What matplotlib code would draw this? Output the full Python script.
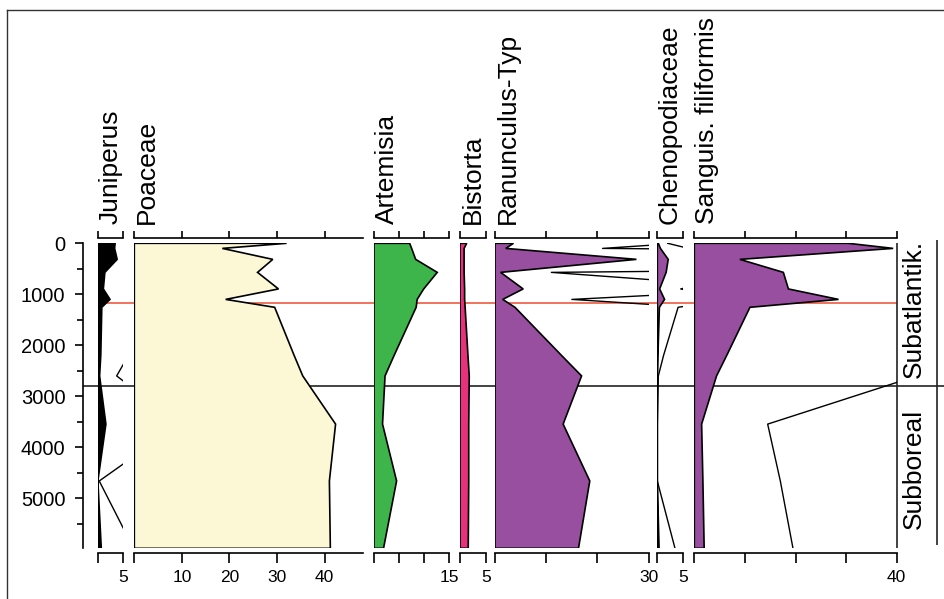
import numpy as np
import matplotlib
matplotlib.use("Agg")
import matplotlib.pyplot as plt
from matplotlib.lines import Line2D

plt.rcParams['font.family'] = ['Liberation Sans', 'DejaVu Sans']

#%% data (depth / age of the samples and percentages per taxon)
depth = [0, 100, 315, 570, 895, 1100, 1255, 2200, 2600, 3545, 4660, 5980]

juniperus = [3.4, 3.3, 3.8, 1.4, 1.1, 2.4, 0.8, 0.6, 0.37, 1.6, 0.03, 0.7]
poaceae = [32.0, 18.5, 29.1, 25.9, 30.3, 19.2, 29.5, 33.6, 35.4, 42.3, 41.0, 41.2]
artemisia = [7.1, 7.5, 8.3, 12.6, 9.9, 8.6, 8.4, 4.0, 2.2, 1.7, 4.5, 1.9]
bistorta = [1.3, 0.8, 0.8, 0.8, 0.9, 0.9, 1.0, 1.55, 1.8, 1.7, 1.7, 1.6]
ranunculus = [3.6, 2.1, 27.6, 1.1, 5.5, 1.5, 3.9, 13.0, 16.9, 13.3, 18.5, 16.3]
chenopodiaceae = [0.2, 0.6, 2.1, 1.7, 0.45, 1.4, 0.4, 0.12, 0.02, 0.0, 0.0, 0.34]
sanguisorba = [30.4, 39.3, 9.0, 17.6, 18.6, 28.5, 11.0, 6.4, 4.4, 1.45, 1.7, 1.95]

taxa = ['Juniperus', 'Poaceae', 'Artemisia', 'Bistorta', 'Ranunculus-Typ',
        'Chenopodiaceae', 'Sanguis. filiformis']
series = [juniperus, poaceae, artemisia, bistorta, ranunculus, chenopodiaceae, sanguisorba]
xmax = [5, 48, 15, 5, 30, 5, 40]
tick_step = [5, 10, 5, 5, 10, 5, 10]
tick_text = [['', '5'], ['', '10', '20', '30', '40'], ['', '', '', '15'], ['', '5'],
             ['', '', '', '30'], ['', '5'], ['', '', '', '', '40']]
colors = ['black', '#fcf8d5', '#3db54a', '#e5327a', '#984f9f', '#984f9f', '#984f9f']
exag = [True, False, False, False, True, True, True]  # x10 curves

zones = ['Subatlantik.', 'Subboreal']
zone_mid = [1290, 4430]
red_line = 1180
zone_line = 2790
depth_max = 5980

#%% layout in pixels
W, H = 944, 599
fnt = 19
lw = 1.2

def fx(p):
    return p / W

def fy(p):
    return 1 - p / H

y_top, y_bot = 243.3, 548.3
left_px = [97.7, 134.3, 374, 460, 495, 657.3, 694.3]
right_px = [123.3, 362.7, 449.3, 485.7, 648.7, 683.3, 896.7]

fig = plt.figure(figsize=(W / 100, H / 100), dpi=100)

# frame
fig.add_artist(Line2D([fx(6.5), fx(6.5)], [0, fy(10)], color='#333333', lw=1))
fig.add_artist(Line2D([fx(6.5), 1], [fy(10), fy(10)], color='#333333', lw=1))

# depth axis + zone lines (behind the curves)
ax0 = fig.add_axes([fx(82.7), fy(y_bot), fx(W - 82.7), (y_bot - y_top) / H], zorder=-1)
ax0.patch.set_facecolor('none')
ax0.set_xlim(82.7, W)
ax0.set_ylim(depth_max, 0)
for s in ['top', 'right', 'bottom']:
    ax0.spines[s].set_visible(False)
ax0.spines['left'].set_linewidth(lw)
ax0.set_xticks([])
ax0.set_yticks(np.arange(0, 5001, 1000))
ax0.set_yticks(np.arange(500, 5600, 1000), minor=True)
ax0.tick_params(axis='y', which='major', length=6, width=lw, pad=6.5, labelsize=14.5)
ax0.tick_params(axis='y', which='minor', length=4, width=lw)
ax0.hlines(red_line, 97.7, 896.7, color='#ef5b3f', lw=1.2)
ax0.hlines(zone_line, 82.7, W, color='#222222', lw=1.2)
ax0.vlines(896.7, 0, depth_max, color='#222222', lw=1.2)
ax0.vlines(937.3, -60, 5920, color='#222222', lw=1.2, clip_on=False)
for z, zm in zip(zones, zone_mid):
    ax0.text(914, zm, z, rotation=90, ha='center', va='center', fontsize=fnt)

# pollen curves
for i in range(len(taxa)):
    ax = fig.add_axes([fx(left_px[i]), fy(y_bot), fx(right_px[i] - left_px[i]),
                       (y_bot - y_top) / H])
    ax.patch.set_facecolor('none')
    v = np.array(series[i])
    d = np.array(depth)
    ax.fill(np.r_[0, v, 0], np.r_[d[0], d, d[-1]], facecolor=colors[i],
            edgecolor='black', lw=lw)
    if exag[i]:
        ax.plot(v * 10, d, color='black', lw=1.0)
    ax.set_xlim(0, xmax[i])
    ax.set_ylim(depth_max, 0)
    ax.set_yticks([])
    for s in ['top', 'left', 'right']:
        ax.spines[s].set_visible(False)
    ax.spines['bottom'].set_position(('outward', 3.2))
    ax.spines['bottom'].set_linewidth(lw)
    ticks = np.arange(0, xmax[i] + 0.1, tick_step[i])
    ax.set_xticks(ticks)
    ax.set_xticklabels(tick_text[i])
    ax.tick_params(axis='x', length=7, width=lw, pad=5.5, labelsize=12.5)

    top = ax.secondary_xaxis(1 + 5.3 / (y_bot - y_top))
    top.set_xticks(ticks)
    top.set_xticklabels([])
    top.spines['top'].set_linewidth(lw)
    top.tick_params(axis='x', length=5, width=lw)

    fig.text(fx(left_px[i] + 12.5), fy(224), taxa[i], rotation=90,
             ha='center', va='bottom', fontsize=fnt)

fig.savefig('out.png', dpi=100)
